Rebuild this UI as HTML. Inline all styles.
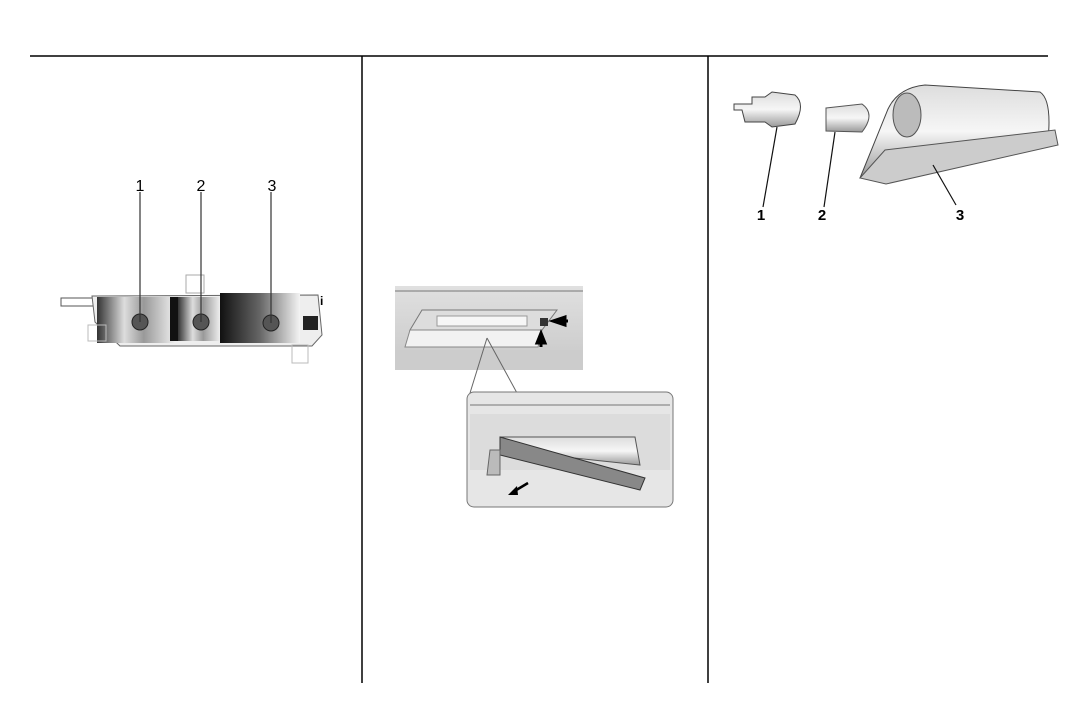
<!DOCTYPE html>
<html><head><meta charset="utf-8"><style>
html,body{margin:0;padding:0;background:#fff;}
svg{display:block;}
text{font-family:"Liberation Sans",sans-serif;}
</style></head><body>
<svg width="1072" height="714" viewBox="0 0 1072 714">
<defs>
<linearGradient id="g1" x1="0" x2="1"><stop offset="0" stop-color="#333"/><stop offset=".35" stop-color="#ddd"/><stop offset=".6" stop-color="#999"/><stop offset="1" stop-color="#eee"/></linearGradient>
<linearGradient id="g2" x1="0" x2="1"><stop offset="0" stop-color="#111"/><stop offset=".5" stop-color="#666"/><stop offset="1" stop-color="#f4f4f4"/></linearGradient>
<linearGradient id="gv" x1="0" y1="0" x2="0" y2="1"><stop offset="0" stop-color="#e0e0e0"/><stop offset="1" stop-color="#c8c8c8"/></linearGradient>
<linearGradient id="gc" x1="0" y1="0" x2="0" y2="1"><stop offset="0" stop-color="#ddd"/><stop offset=".5" stop-color="#f6f6f6"/><stop offset="1" stop-color="#999"/></linearGradient>
</defs>
<line x1="30" y1="56" x2="1048" y2="56" stroke="#000" stroke-width="1.5"/>
<line x1="362" y1="56" x2="362" y2="683" stroke="#000" stroke-width="1.5"/>
<line x1="708" y1="56" x2="708" y2="683" stroke="#000" stroke-width="1.5"/>

<!-- Illustration 1 -->
<g>
<rect x="61" y="298" width="36" height="8" fill="#fff" stroke="#555"/>
<path d="M92 296 L318 295 L322 335 L312 346 L120 346 L95 322 Z" fill="#eee" stroke="#666"/>
<rect x="97" y="297" width="78" height="46" fill="url(#g1)"/>
<rect x="170" y="297" width="8" height="44" fill="#111"/>
<rect x="178" y="297" width="42" height="44" fill="url(#g1)"/>
<rect x="220" y="293" width="80" height="50" fill="url(#g2)"/>
<rect x="186" y="275" width="18" height="18" fill="none" stroke="#aaa"/>
<rect x="88" y="325" width="18" height="16" fill="none" stroke="#bbb"/>
<rect x="292" y="345" width="16" height="18" fill="none" stroke="#bbb"/>
<rect x="303" y="316" width="15" height="14" fill="#222"/>
<text x="320" y="305" font-size="12" font-weight="bold">i</text>
<circle cx="140" cy="322" r="8" fill="#555" stroke="#222"/>
<circle cx="201" cy="322" r="8" fill="#555" stroke="#222"/>
<circle cx="271" cy="323" r="8" fill="#555" stroke="#222"/>
<line x1="140" y1="192" x2="140" y2="322" stroke="#333" stroke-width="1.2"/>
<line x1="201" y1="192" x2="201" y2="322" stroke="#333" stroke-width="1.2"/>
<line x1="271" y1="192" x2="271" y2="323" stroke="#333" stroke-width="1.2"/>
<text x="140" y="191" font-size="16" text-anchor="middle">1</text>
<text x="201" y="191" font-size="16" text-anchor="middle">2</text>
<text x="272" y="191" font-size="16" text-anchor="middle">3</text>
</g>

<!-- Illustration 2 -->
<g>
<rect x="395" y="286" width="188" height="84" fill="url(#gv)"/>
<line x1="395" y1="291" x2="583" y2="291" stroke="#777"/>
<rect x="395" y="350" width="188" height="20" fill="#ccc"/>
<path d="M422 310 L557 310 L542 330 L410 330 Z" fill="#ddd" stroke="#777"/>
<path d="M410 330 L542 330 L538 347 L405 347 Z" fill="#f2f2f2" stroke="#888"/>
<rect x="437" y="316" width="90" height="10" fill="#f6f6f6" stroke="#999"/>
<rect x="540" y="318" width="8" height="8" fill="#333"/>
<path d="M565 317 L553 321 L565 325 Z M555 321 L568 321" stroke="#000" stroke-width="3" fill="#000"/>
<path d="M541 333 L537 343 L545 343 Z M541 340 L541 347" stroke="#000" stroke-width="3" fill="#000"/>
<path d="M487 338 L470 393 M487 338 L517 393" stroke="#666" fill="none"/>
<rect x="467" y="392" width="206" height="115" rx="7" fill="#e6e6e6" stroke="#777"/>
<line x1="470" y1="405" x2="670" y2="405" stroke="#777"/>
<path d="M470 414 L670 414 L670 470 L470 470 Z" fill="#dcdcdc"/>
<path d="M500 437 L635 437 L640 465 L500 450 Z" fill="url(#gc)" stroke="#555"/>
<path d="M500 437 L500 455 L640 490 L645 478 Z" fill="#888" stroke="#333"/>
<path d="M490 450 L500 450 L500 475 L487 475 Z" fill="#bbb" stroke="#666"/>
<path d="M528 483 L513 492" stroke="#000" stroke-width="2.5"/>
<path d="M508 495 L517 486 L518 495 Z" fill="#000"/>
</g>

<!-- Illustration 3 -->
<g>
<path d="M734 104 L752 104 L752 97 L765 97 L772 92 L795 95 Q806 104 795 124 L772 127 L765 122 L745 122 L742 110 L734 110 Z" fill="url(#gc)" stroke="#444"/>
<path d="M826 108 L862 104 Q876 114 862 132 L826 131 Z" fill="url(#gc)" stroke="#555"/>
<path d="M886 114 Q895 88 925 85 L1040 92 Q1052 100 1048 140 L885 178 L860 178 Z" fill="url(#gc)" stroke="#444"/>
<path d="M860 178 L885 150 L1055 130 L1058 145 L886 184 Z" fill="#ccc" stroke="#555"/>
<ellipse cx="907" cy="115" rx="14" ry="22" fill="#bbb" stroke="#555"/>
<line x1="777" y1="127" x2="763" y2="207" stroke="#111" stroke-width="1.2"/>
<line x1="835" y1="132" x2="824" y2="207" stroke="#111" stroke-width="1.2"/>
<line x1="933" y1="165" x2="956" y2="205" stroke="#111" stroke-width="1.2"/>
<text x="761" y="220" font-size="15" font-weight="bold" text-anchor="middle">1</text>
<text x="822" y="220" font-size="15" font-weight="bold" text-anchor="middle">2</text>
<text x="960" y="220" font-size="15" font-weight="bold" text-anchor="middle">3</text>
</g>
</svg>
</body></html>
